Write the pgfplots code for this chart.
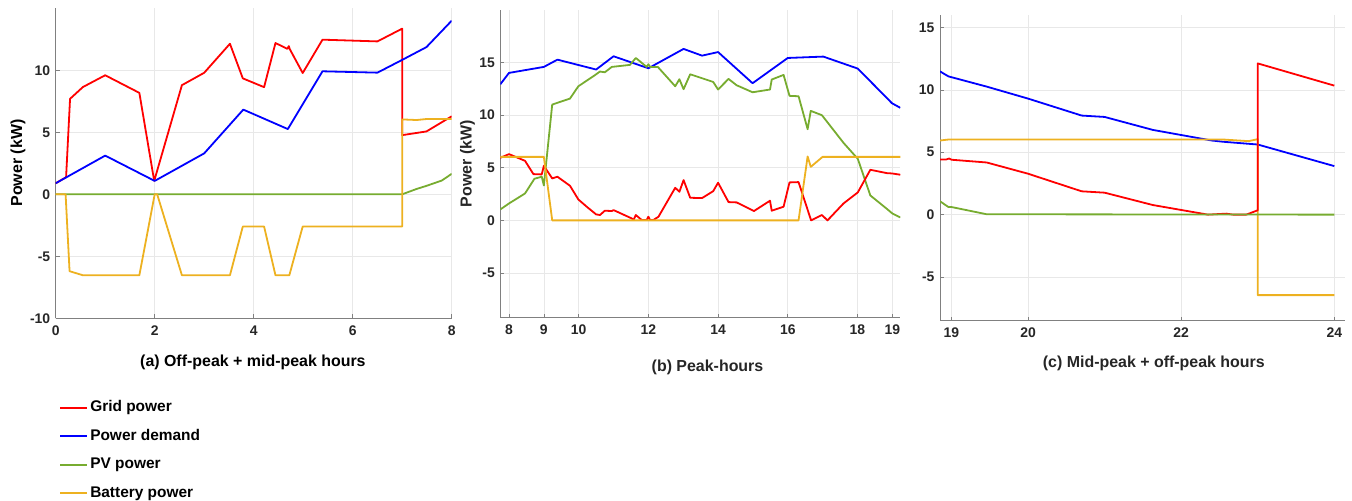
\documentclass[border=0pt]{standalone}
\usepackage{fontspec}
\setmainfont{Liberation Sans}
\usepackage{pgfplots}
\pgfplotsset{compat=1.18}
\definecolor{cgrid}{HTML}{FF0000}
\definecolor{cdem}{HTML}{0000FF}
\definecolor{cpv}{HTML}{77AC30}
\definecolor{cbat}{HTML}{EDB120}
\definecolor{caxis}{HTML}{808080}
\definecolor{ctxt}{HTML}{262626}
\pgfplotsset{
  myax/.style={
    scale only axis,
    anchor=south west,
    axis x line=bottom, axis y line=left,
    axis line style={draw=caxis, line width=0.6bp, -},
    every tick/.style={draw=caxis, line width=0.6bp},
    tick align=inside, major tick length=4bp,
    grid=major,
    major grid style={draw=black!9, line width=0.6bp},
    /pgf/number format/assume math mode=true,
    ticklabel style={font=\fontsize{14}{16}\selectfont\bfseries, text=ctxt},
    xticklabel style={yshift=-4bp},
    yticklabel style={xshift=-2bp},
    label style={font=\fontsize{16}{18}\selectfont\bfseries},
    every axis plot/.append style={line width=1.8bp, no markers, line join=round},
  }
}
\begin{document}
\begin{tikzpicture}
\useasboundingbox (0bp,0bp) rectangle (1352bp,501bp);
% Panel (a)
\begin{axis}[myax, at={(55.7bp,182.7bp)}, width=396bp, height=310bp,
  xmin=0, xmax=8, ymin=-10, ymax=15,
  xtick={0,2,4,6,8}, ytick={-10,-5,0,5,10},
  xlabel={(a) Off-peak + mid-peak hours},
  xlabel style={at={(axis description cs:0.498,-0.141)}, anchor=center, text=black},
  ylabel={Power (kW)},
  ylabel style={at={(axis description cs:-0.0955,0.501)}, anchor=center, text=black},
  legend style={draw=none, fill=none, at={(axis description cs:0.011,-0.266)}, anchor=north west,
    font=\fontsize{15.5}{18}\selectfont\bfseries, row sep=14.5bp, inner sep=0pt,
    nodes={inner sep=0pt, text height=11bp, text depth=3bp, anchor=west}},
  legend cell align=left,
  legend image code/.code={\fill[#1] (0bp,-1bp) rectangle (27bp,1bp); \path (30bp,0bp);},
]
\addplot[cgrid, forget plot] coordinates {(0,0.89) (0.21,1.38) (0.29,7.7) (0.55,8.65) (1.0,9.6) (1.69,8.18) (1.99,1.08) (2.55,8.8) (3.0,9.8) (3.52,12.14) (3.78,9.35) (4.21,8.64) (4.44,12.2) (4.68,11.73) (4.71,11.95) (4.73,11.7) (4.99,9.78) (5.39,12.47) (6.5,12.33) (7.0,13.36) (7.0,4.77) (7.49,5.07) (8.0,6.29)};
\addplot[cdem, forget plot] coordinates {(0,0.89) (1.0,3.12) (2.0,1.08) (3.0,3.3) (3.79,6.83) (4.69,5.26) (5.39,9.92) (6.5,9.81) (7.0,10.84) (7.49,11.87) (8.0,14.0)};
\addplot[cpv, forget plot] coordinates {(0,0) (7.0,0) (7.29,0.43) (7.49,0.68) (7.8,1.11) (8.0,1.65)};
\addplot[cbat, forget plot] coordinates {(0,0) (0.2,0) (0.28,-6.2) (0.55,-6.53) (1.69,-6.53) (2.0,0) (2.05,0) (2.55,-6.53) (3.52,-6.53) (3.78,-2.6) (4.21,-2.6) (4.44,-6.53) (4.72,-6.53) (4.99,-2.6) (7.0,-2.6) (7.0,6.04) (7.29,5.99) (7.49,6.07) (8.0,6.07)};
\addlegendimage{fill=cgrid, draw=none}
\addlegendentry{Grid power}
\addlegendimage{fill=cdem, draw=none}
\addlegendentry{Power demand}
\addlegendimage{fill=cpv, draw=none}
\addlegendentry{PV power}
\addlegendimage{fill=cbat, draw=none}
\addlegendentry{Battery power}
\end{axis}
% Panel (b)
\begin{axis}[myax, at={(500.3bp,183.3bp)}, width=400bp, height=307.7bp,
  xmin=7.75, xmax=19.23, ymin=-9.25, ymax=20,
  xtick={8,9,10,12,14,16,18,19}, ytick={-5,0,5,10,15},
  xlabel={(b) Peak-hours},
  xlabel style={at={(axis description cs:0.518,-0.161)}, anchor=center, text=ctxt},
  ylabel={Power (kW)},
  ylabel style={at={(axis description cs:-0.082,0.5)}, anchor=center, text=ctxt},
]
\addplot[cdem] coordinates {(7.75,12.94) (8.0,14.02) (9.0,14.59) (9.39,15.28) (10.5,14.34) (11.0,15.6) (12.0,14.46) (13.01,16.3) (13.54,15.66) (14.0,16.0) (14.99,13.04) (16.0,15.44) (17.02,15.57) (18.01,14.43) (18.99,11.14) (19.23,10.7)};
\addplot[cpv] coordinates {(7.75,1.04) (8.0,1.61) (8.46,2.56) (8.73,3.96) (8.94,4.15) (9.0,3.32) (9.24,11.01) (9.75,11.58) (9.99,12.75) (10.42,13.7) (10.61,14.15) (10.75,14.08) (10.95,14.59) (11.47,14.78) (11.64,15.44) (11.95,14.59) (12.0,14.84) (12.05,14.59) (12.27,14.59) (12.77,12.75) (12.89,13.42) (13.01,12.47) (13.2,13.89) (13.86,13.16) (14.0,12.44) (14.3,13.45) (14.53,12.85) (14.99,12.18) (15.49,12.44) (15.54,13.39) (15.88,13.83) (16.05,11.84) (16.31,11.8) (16.57,8.67) (16.66,10.41) (16.98,10.0) (17.6,7.37) (18.01,5.85) (18.37,2.37) (18.85,1.08) (19.0,0.66) (19.23,0.28)};
\addplot[cgrid] coordinates {(7.75,5.95) (8.0,6.3) (8.46,5.66) (8.7,4.4) (8.94,4.37) (9.0,5.19) (9.24,3.99) (9.39,4.15) (9.75,3.29) (9.99,1.99) (10.23,1.3) (10.5,0.57) (10.61,0.51) (10.75,0.92) (10.95,0.89) (11.0,0.98) (11.52,0.19) (11.57,0.03) (11.64,0.51) (11.81,0.03) (11.95,0.03) (12.0,0.35) (12.05,0.03) (12.14,0.03) (12.29,0.35) (12.77,3.1) (12.89,2.72) (13.01,3.83) (13.2,2.15) (13.54,2.12) (13.86,2.78) (14.0,3.58) (14.3,1.74) (14.53,1.71) (15.03,0.89) (15.49,1.87) (15.54,0.92) (15.88,1.3) (16.05,3.61) (16.31,3.64) (16.67,0.0) (16.98,0.51) (17.14,0.0) (17.6,1.61) (18.01,2.66) (18.37,4.81) (18.85,4.49) (19.0,4.46) (19.23,4.34)};
\addplot[cbat] coordinates {(7.75,6.04) (9.0,6.04) (9.24,0) (16.31,0) (16.57,6.08) (16.66,5.09) (17.0,6.04) (19.23,6.04)};
\end{axis}
% Panel (c)
\begin{axis}[myax, at={(940bp,180.3bp)}, width=405bp, height=305.7bp,
  xmin=18.85, xmax=24.14, ymin=-8.5, ymax=16,
  xtick={19,20,22,24}, ytick={-5,0,5,10,15},
  xlabel={(c) Mid-peak + off-peak hours},
  xlabel style={at={(axis description cs:0.528,-0.14)}, anchor=center, text=ctxt},
]
\addplot[cdem] coordinates {(18.85,11.48) (18.96,11.08) (19.46,10.26) (20.0,9.3) (20.7,7.94) (21.0,7.83) (21.63,6.79) (22.4,5.94) (22.55,5.84) (23.0,5.62) (24.0,3.89)};
\addplot[cbat] coordinates {(18.85,5.94) (18.96,6.02) (22.55,6.02) (22.88,5.89) (23.0,6.05) (23.0,-6.45) (24.0,-6.45)};
\addplot[cgrid] coordinates {(18.85,4.42) (18.93,4.42) (18.97,4.5) (19.0,4.4) (19.46,4.18) (20.0,3.28) (20.7,1.87) (21.0,1.76) (21.63,0.77) (22.35,0) (22.59,0.08) (22.68,0) (22.85,0) (23.0,0.35) (23.0,12.12) (24.0,10.34)};
\addplot[cpv] coordinates {(18.85,1.07) (18.96,0.61) (19.0,0.61) (19.46,0.03) (24.0,0)};
\end{axis}
\end{tikzpicture}
\end{document}
